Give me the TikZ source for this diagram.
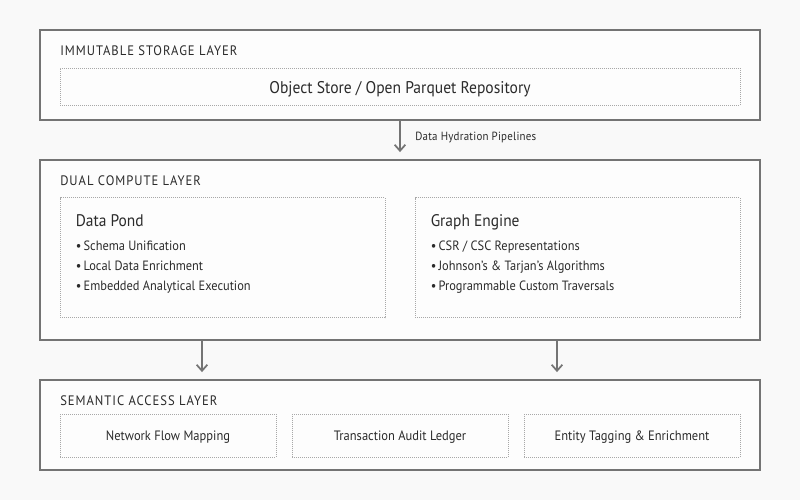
\documentclass[tikz,border=0pt]{standalone}
\usepackage{fontspec}
\setmainfont{PT Sans}[FakeStretch=0.92]
\usetikzlibrary{arrows.meta,fit}
\definecolor{bgc}{HTML}{F9F9F9}
\definecolor{framec}{HTML}{747474}
\definecolor{dotc}{HTML}{A8A8A8}
\definecolor{inkc}{HTML}{2B2B2B}
\begin{document}
\begin{tikzpicture}[x=0.75pt,y=-0.75pt,
  layerbox/.style={draw=framec,line width=1.5pt,inner sep=0pt,fill=white!60!bgc},
  dotbox/.style={draw=dotc,line width=0.75pt,dash pattern=on 0.75pt off 0.75pt,inner sep=0pt},
  layertitle/.style={anchor=base west,inner sep=0pt,text=inkc,font=\fontsize{10.3pt}{12pt}\selectfont\addfontfeatures{LetterSpace=7}},
  boxtitle/.style={anchor=base west,inner sep=0pt,text=inkc,font=\fontsize{12.6pt}{15pt}\selectfont},
  bullet/.style={anchor=base west,inner sep=0pt,text=inkc,font=\fontsize{10.1pt}{12pt}\selectfont},
  itemtext/.style={inner sep=0pt,text=inkc,font=\fontsize{10.2pt}{12pt}\selectfont},
  flow/.style={draw=framec,line width=1.5pt,shorten >=5.2pt,-{Straight Barb[length=4.5pt,width=8pt,line width=1.3pt]}},
  flowlabel/.style={anchor=base west,inner sep=0pt,text=inkc,font=\fontsize{8.9pt}{10pt}\selectfont\addfontfeatures{LetterSpace=2}}]

% page background
\fill[bgc] (0,0) rectangle (800,500);
\useasboundingbox (0,0) rectangle (800,500);

% ---- storage layer ----
\node[layerbox,fit={(40,30) (760,120)}] (storage) {};
\node[layertitle] (storagetitle) at (60,55.3) {IMMUTABLE STORAGE LAYER};
\node[dotbox,fit={(60,68) (740,105)}] (repo) {};
\node[itemtext,anchor=base,font=\fontsize{12.7pt}{15pt}\selectfont] (repotext) at (400,93.3) {Object Store / Open Parquet Repository};

% ---- compute layer ----
\node[layerbox,fit={(40,160) (760,340)}] (compute) {};
\node[layertitle] (computetitle) at (60,185.3) {DUAL COMPUTE LAYER};

\node[dotbox,fit={(60,197.5) (385,317.7)}] (pond) {};
\node[boxtitle] (pondtitle) at (75.5,226) {Data Pond};
\node[bullet] (pond1) at (75.5,250) {\textbullet\,Schema Unification};
\node[bullet] (pond2) at (75.5,270) {\textbullet\,Local Data Enrichment};
\node[bullet] (pond3) at (75.5,290) {\textbullet\,Embedded Analytical Execution};

\node[dotbox,fit={(415,197.5) (740,317.7)}] (graph) {};
\node[boxtitle] (graphtitle) at (430.5,226) {Graph Engine};
\node[bullet] (graph1) at (430.5,250) {\textbullet\,CSR / CSC Representations};
\node[bullet] (graph2) at (430.5,270) {\textbullet\,Johnson's \& Tarjan's Algorithms};
\node[bullet] (graph3) at (430.5,290) {\textbullet\,Programmable Custom Traversals};

% ---- access layer ----
\node[layerbox,fit={(40,380) (760,470)}] (access) {};
\node[layertitle] (accesstitle) at (60,405.7) {SEMANTIC ACCESS LAYER};

\node[dotbox,fit={(60,414.3) (276,457)}] (flowmap) {};
\node[itemtext,anchor=base] at (flowmap.center |- 0,440.7) {Network Flow Mapping};
\node[dotbox,fit={(292,414.3) (508,457)}] (ledger) {};
\node[itemtext,anchor=base] at (ledger.center |- 0,440.7) {Transaction Audit Ledger};
\node[dotbox,fit={(524,414.3) (740,457)}] (tagging) {};
\node[itemtext,anchor=base] at (tagging.center |- 0,440.7) {Entity Tagging \& Enrichment};

% ---- connectors ----
\draw[flow] (storage.south) -- (compute.north);
\node[flowlabel] (hydration) at (415,140) {Data Hydration Pipelines};

\coordinate (pondtap) at (202,0);
\coordinate (graphtap) at (557,0);
\draw[flow] (compute.south -| pondtap) -- (access.north -| pondtap);
\draw[flow] (compute.south -| graphtap) -- (access.north -| graphtap);

\end{tikzpicture}
\end{document}
